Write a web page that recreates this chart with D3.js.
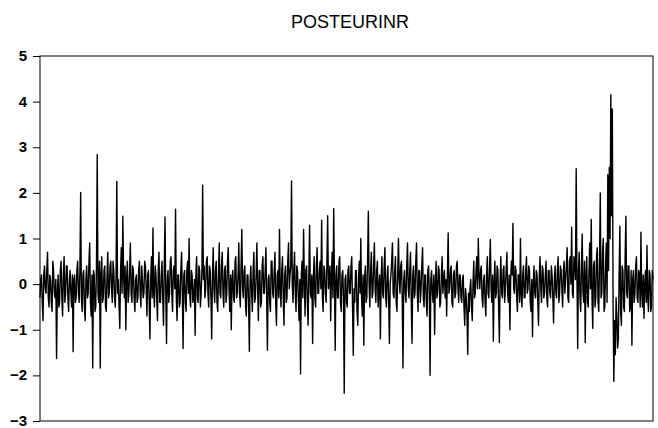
<!DOCTYPE html>
<html>
<head>
<meta charset="utf-8">
<script src="https://cdn.jsdelivr.net/npm/d3@7"></script>
<style>
  body { margin: 0; background: #fff; }
  text { font-family: "Liberation Sans", Arial, sans-serif; }
</style>
</head>
<body>
<div id="chart"></div>
<script>

const title = "POSTEURINR";
const yTicks = [-3, -2, -1, 0, 1, 2, 3, 4, 5];

// series left to right
const posteurinr = [
  -0.3,0.1, 0.2,-0.4, -0.8,0.2, 0.4,-0.1, -0.2,0.3, 0.7,-0.3, -0.5,0.2, 0.1,-0.4, -0.6,0.5, 0.3,-0.2, -0.3,0.1, -1.63,-0.2, 0.2,-0.5, -0.4,0.3, 0.5,-0.3, -0.7,0.2, 0.6,-0.4, -0.2,0.4, 0.4,-0.3, -0.6,0.1,
  0.3,-0.2, -0.5,0.2, -1.48,0.1, 0.2,-0.4, -0.3,0.3, 0.5,-0.2, -0.4,0.3, 2.01,-0.3, -0.6,0.2, 0.3,-0.5, -0.8,0.1, 0.4,-0.3, -0.2,0.5, 0.9,-0.4, -0.7,0.2, -1.84,0.3, 0.2,-0.6, -0.5,0.4, 2.84,-0.2, -0.4,0.5,
  -1.84,0.2, 0.6,-0.4, -0.3,0.3, 0.4,-0.5, -0.6,0.2, 0.7,-0.3, -0.2,0.4, 0.5,-0.1, -0.4,0.5, 0.3,-0.3, -0.5,0.2, 2.25,-0.2, 0.1,-0.5, -0.97,0.3, 0.8,-0.2, 1.49,0.2, -0.3,0.4, -1.0,0.1, 0.5,-0.4, -0.2,0.3,
  0.9,-0.2, -0.4,0.4, 0.3,-0.3, -0.6,0.1, 0.2,-0.4, -0.3,0.3, 0.5,-0.2, -0.5,0.4, 0.1,-0.3, -0.2,0.5, 0.4,-0.1, -0.7,0.2, 0.3,-0.4, -1.2,0.1, 0.6,-0.3, 1.23,-0.2, -0.5,0.4, 0.2,-0.3, -0.8,0.3, 0.7,-0.4,
  -0.4,0.2, 0.5,-0.3, -0.9,0.4, 1.47,-0.2, -1.3,0.1, 0.3,-0.4, -0.2,0.5, 0.6,-0.2, -0.6,0.3, 0.4,-0.1, 1.64,-0.3, -0.8,0.2, 0.2,-0.5, -0.4,0.3, 0.7,-0.2, -1.41,0.2, 0.3,-0.4, -0.6,0.3, 0.5,-0.2, 1.0,-0.3,
  -0.5,0.3, 0.2,-0.4, -0.3,0.1, -1.12,0.2, 0.6,-0.3, -0.4,0.4, 0.3,-0.5, -0.2,0.3, 2.17,0.1, 0.4,-0.3, -0.1,0.5, 0.6,-0.2, -0.5,0.4, 0.3,-0.3, -1.2,0.2, 0.8,-0.1, -0.4,0.3, 0.5,-0.4, -0.6,0.2, 0.9,-0.2,
  -0.3,0.4, 0.7,-0.2, -0.5,0.3, 0.4,-0.4, -0.2,0.5, 0.8,-0.1, -0.6,0.2, -1.0,0.1, 0.3,-0.3, -0.4,0.5, 0.6,-0.3, -0.2,0.2, 0.9,-0.2, -0.5,0.4, 1.2,-0.1, -0.3,0.3, 0.4,-0.5, -0.7,0.2, 0.2,-0.4, -1.47,0.1,
  0.4,-0.2, -0.6,0.3, 0.7,-0.4, -0.3,0.2, 0.9,-0.1, -0.8,0.3, 0.3,-0.5, -0.4,0.4, 0.6,-0.2, -0.2,0.3, 0.8,-0.3, -1.45,0.1, 0.2,-0.4, -0.6,0.5, 0.5,-0.2, -0.3,0.3, 0.7,-0.4, -0.9,0.2, 0.3,-0.3, 1.2,-0.1,
  -0.5,0.3, 0.6,-0.3, -0.9,0.2, 0.4,-0.4, -0.3,0.5, 0.9,-0.1, 0.2,0.4, 2.26,0.0, -0.4,0.3, 0.7,-0.2, -0.6,0.4, 0.3,-0.3, -0.8,0.1, -1.97,0.2, 0.5,-0.3, 1.2,0.1, -0.7,0.3, 0.4,-0.4, -0.9,0.2, 1.29,-0.2,
  -0.3,0.2, -1.3,0.1, 0.6,-0.3, -0.5,0.4, 0.8,-0.2, -0.2,0.3, 0.5,-0.1, 1.4,-0.3, -0.6,0.4, 0.3,-0.2, -0.4,0.5, 1.5,-0.1, 0.1,0.4, -0.8,0.2, 0.7,-0.3, 1.66,0.1, -1.45,0.2, 0.4,-0.3, -0.3,0.5, 0.6,-0.4,
  -0.6,0.2, 0.3,-0.3, -2.39,0.1, 0.2,-0.4, -0.5,0.3, 0.4,-0.2, -0.2,0.4, 0.6,-0.5, -1.56,-0.1, -0.4,0.3, 0.3,-0.6, -0.9,0.1, 0.5,-0.2, 1.0,-0.3, -0.7,0.2, -1.34,0.1, 0.4,-0.4, -0.3,0.5, 1.6,0.0, -0.5,0.3,
  0.7,-0.3, -0.2,0.4, 0.9,-0.1, -0.4,0.3, 0.5,-0.5, -0.1,0.2, -1.2,0.1, 0.6,-0.2, -0.3,0.4, 0.8,-0.3, -0.5,0.2, 0.4,-0.4, -1.3,0.0, 0.2,0.5, 0.9,-0.2, -0.3,0.3, 0.6,-0.4, -0.6,0.2, 1.0,0.1, -0.2,0.4,
  0.5,-0.3, -1.84,0.1, 0.3,-0.2, -0.4,0.4, 0.9,-0.1, -0.3,0.3, 0.7,-0.4, -1.3,0.2, 0.4,-0.3, -0.2,0.5, 0.9,-0.2, -0.6,0.3, 0.3,-0.4, -0.1,0.4, 0.8,-0.3, -0.5,0.2, 0.2,-0.4, -0.7,0.3, 0.4,-0.2, -2.0,0.1,
  0.3,-0.2, -0.4,0.2, -1.1,0.0, 0.5,-0.3, -0.2,0.4, 0.3,-0.5, -0.4,0.2, 0.6,-0.2, 0.1,0.3, -0.3,0.1, -0.7,0.2, 1.12,-0.2, -0.1,0.3, 0.4,-0.4, -0.5,0.2, 0.3,-0.3, -0.2,0.4, 0.5,-0.1, -0.4,0.2, 0.2,-0.3,
  -0.4,0.1, 0.2,-0.5, -0.9,-0.1, -0.3,-0.7, -1.54,-0.2, -0.6,-0.1, 0.1,-0.5, -0.8,0.0, 0.5,-0.3, -0.2,0.3, 0.6,-0.1, 1.0,0.2, -0.1,0.3, 0.4,-0.3, -0.5,0.1, 0.2,-0.4, -0.7,0.2, 0.6,-0.2, -0.3,0.4, 0.98,-0.1,
  -0.4,0.2, -1.25,0.0, 0.5,-0.3, -0.2,0.4, 0.3,-0.5, -1.28,0.1, 0.6,-0.2, -0.3,0.3, 0.4,-0.4, -0.1,0.3, 0.7,-0.2, -0.4,0.2, -1.0,0.1, 0.5,0.2, 1.33,-0.1, -0.2,0.4, 0.3,-0.3, -0.6,0.2, 0.2,-0.4, 1.0,-0.2,
  -0.5,0.2, 0.4,-0.3, -0.3,0.3, 0.6,-0.2, -0.1,0.4, 0.3,-0.4, -0.6,0.1, -1.15,0.0, 0.4,-0.2, -0.3,0.3, 0.2,-0.4, -0.9,0.2, 0.6,-0.1, -0.4,0.4, 0.3,-0.3, -0.2,0.2, 0.5,-0.3, -0.5,0.3, 0.3,-0.2, -0.3,0.4,
  0.2,-0.3, -0.85,0.1, 0.4,-0.2, -0.3,0.3, 0.6,-0.4, -0.2,0.4, 0.3,-0.1, -0.5,0.3, 0.5,-0.2, 0.1,0.4, 0.8,-0.3, -0.4,0.5, 0.6,0.0, 1.25,-0.2, -0.3,0.6, 0.5,0.1, 2.53,0.2, -1.41,0.3, 0.7,-0.3, -0.6,0.4,
  1.1,-0.2, -0.4,0.5, -1.28,0.2, 0.6,-0.4, -0.5,0.3, 0.9,-0.1, 1.42,-0.3, -0.97,0.4, 0.5,-0.5, -0.3,0.6, 0.8,-0.4, -0.6,0.5, 2.0,-0.3, -0.2,0.7, 1.0,-0.6, -0.5,0.4, 0.9,-0.4, 2.4,0.3, 2.56,1.0, 4.15,1.5,
  3.84,-0.5, -2.13,-0.8, -1.55,-0.3, -0.7,-1.4, -1.2,0.2, 1.27,-0.6, -0.9,0.4, 0.3,-0.5, -0.6,0.6, 1.49,-0.2, -0.3,0.4, 0.4,-0.6, -0.5,0.3, -1.34,0.1, 0.3,-0.4, -0.2,0.4, 0.6,-0.3, -0.4,0.3, 0.2,-0.5, 1.14,-0.2,
  -0.5,0.2, -0.75,0.0, 0.3,-0.4, 0.85,-0.3, -0.6,0.3, 0.2,-0.6, -0.5,0.3, 0.1
];

const margin = {top: 56, right: 5, bottom: 7, left: 40};
const width = 653 - margin.left,
      height = 421 - margin.top;

const svg = d3.select("#chart").append("svg")
  .attr("width", 658)
  .attr("height", 428);

svg.append("text")
  .attr("x", 350)
  .attr("y", 28)
  .attr("text-anchor", "middle")
  .attr("font-size", "18px")
  .text(title);

const g = svg.append("g")
  .attr("transform", `translate(${margin.left},${margin.top})`);

const xScale = d3.scaleLinear().domain([0, posteurinr.length - 1]).range([0, width]);
const yScale = d3.scaleLinear().domain([-3, 5]).range([height, 0]);

const yAxis = d3.axisLeft(yScale).tickValues(yTicks).tickSize(7).tickPadding(6);
g.append("g")
  .attr("class", "axis-y")
  .call(yAxis)
  .call(a => a.select(".domain").remove())
  .call(a => a.selectAll("text")
    .attr("font-size", "15px")
    .attr("font-weight", "bold")
    .attr("fill", "#000")
    .attr("dy", "0.3em")
    .attr("font-family", "'Liberation Sans', Arial, sans-serif"))
  .call(a => a.selectAll("line").attr("stroke", "#000"));

const line = d3.line()
  .x((d, i) => xScale(i))
  .y(d => yScale(d));

g.append("path")
  .datum(posteurinr)
  .attr("d", line)
  .attr("fill", "none")
  .attr("stroke", "#000")
  .attr("stroke-width", 1.4)
  .attr("stroke-linejoin", "round");

g.append("rect")
  .attr("x", 0)
  .attr("y", 0)
  .attr("width", width)
  .attr("height", height)
  .attr("fill", "none")
  .attr("stroke", "#000")
  .attr("stroke-width", 1);

</script>
</body>
</html>
